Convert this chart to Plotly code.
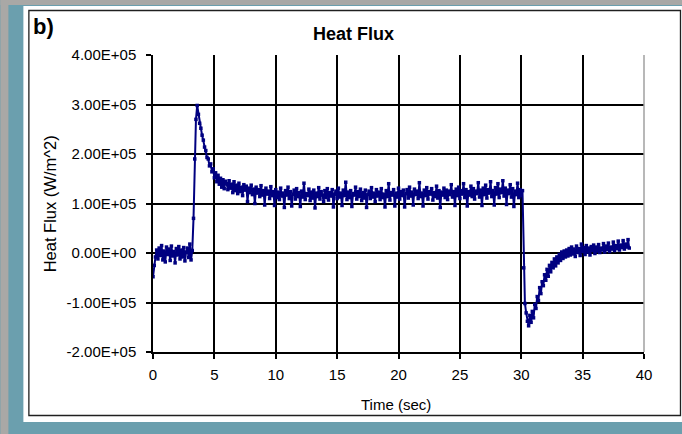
import plotly.graph_objects as go

# ---------------- data ----------------
time_start_s = 0.0
time_step_s = 0.1

# heat flux in kW/m^2, one row per second (t = k.0 ... k.9)
heat_flux_kw = [
    -48, -25, -8, 6, -12, 10, -5, 15, -14, 4,            # 0
    -18, 12, -3, 8, -15, 14, -6, 3, -20, 9,              # 1
    -4, 13, -12, 6, -8, 11, -16, 2, 10, -9,              # 2
    18, -14, 5, 70, 190, 270, 298, 280, 262, 252,        # 3
    238, 228, 214, 207, 193, 190, 176, 180, 164, 170,    # 4
    152, 162, 144, 157, 139, 151, 133, 148, 130, 145,    # 5
    140, 128, 146, 131, 139, 122, 144, 126, 137, 120,    # 6
    141, 124, 133, 116, 138, 127, 135, 104, 131, 122,    # 7
    137, 118, 129, 100, 133, 121, 128, 114, 136, 117,    # 8
    126, 97, 131, 119, 125, 110, 134, 116, 124, 96,      # 9
    128, 112, 123, 108, 131, 115, 121, 92, 126, 117,     # 10
    133, 110, 124, 95, 119, 127, 109, 130, 114, 122,     # 11
    94, 125, 113, 141, 108, 120, 116, 129, 106, 123,     # 12
    111, 127, 91, 121, 114, 132, 109, 124, 117, 104,     # 13
    126, 112, 130, 107, 122, 115, 128, 93, 119, 125,     # 14
    110, 131, 113, 121, 96, 127, 116, 143, 108, 123,     # 15
    112, 126, 94, 120, 117, 133, 109, 124, 114, 129,     # 16
    106, 122, 111, 127, 92, 118, 125, 110, 132, 113,     # 17
    121, 104, 128, 115, 123, 108, 130, 112, 119, 93,     # 18
    126, 114, 140, 107, 122, 117, 128, 95, 121, 113,     # 19
    131, 109, 124, 116, 127, 93, 120, 128, 111, 133,     # 20
    115, 123, 97, 129, 118, 125, 110, 142, 114, 121,     # 21
    95, 127, 116, 132, 109, 124, 119, 130, 107, 122,     # 22
    114, 135, 111, 126, 92, 123, 117, 131, 112, 127,     # 23
    108, 125, 118, 138, 113, 124, 96, 129, 116, 133,     # 24
    110, 126, 119, 140, 112, 128, 95, 124, 117, 135,     # 25
    114, 130, 109, 125, 120, 142, 113, 127, 96, 131,     # 26
    118, 137, 111, 128, 121, 144, 114, 126, 97, 132,     # 27
    119, 140, 112, 129, 122, 146, 115, 131, 98, 127,     # 28
    120, 138, 113, 130, 94, 125, 118, 141, 112, 128,     # 29
    116, 126, -30, -102, -121, -138, -147, -126, -140, -118,  # 30
    -131, -104, -112, -88, -96, -70, -82, -58, -66, -44,      # 31
    -55, -33, -47, -25, -38, -19, -30, -12, -26, -8,          # 32
    -20, -3, -15, 2, -11, 4, -8, 6, -6, 9,               # 33
    -4, 12, -2, 8, -7, 14, 1, 9, -5, 18,                 # 34
    3, 11, -3, 15, 2, 10, -4, 13, 5, 16,                 # 35
    -1, 12, 4, 17, 1, 10, 6, 19, 2, 14,                  # 36
    7, 20, 3, 12, 8, 22, 5, 15, 9, 24,                   # 37
    6, 16, 11, 25, 8, 18, 12, 27, 10,                    # 38
]

time_s = [round(time_start_s + i * time_step_s, 1) for i in range(len(heat_flux_kw))]
heat_flux = [v * 1000 for v in heat_flux_kw]  # W/m^2

x_tick_vals = [0, 5, 10, 15, 20, 25, 30, 35, 40]
y_tick_vals = [-200000, -100000, 0, 100000, 200000, 300000, 400000]
y_tick_labels = ["-2.00E+05", "-1.00E+05", "0.00E+00", "1.00E+05",
                 "2.00E+05", "3.00E+05", "4.00E+05"]

chart_title = "Heat Flux"
panel_label = "b)"
x_title = "Time (sec)"
y_title = "Heat Flux (W/m^2)"

# ---------------- layout geometry (pixels) ----------------
W, H = 682, 434
L, R, T, B = 152.7, 644, 55, 352   # plot area edges in page pixels
PW, PH = R - L, B - T


def px(x):
    return (x - L) / PW


def py(y):
    return (B - y) / PH


FONT = "Liberation Sans, Arial, Helvetica, sans-serif"
TEAL = "#6b9fae"
GRAY = "#a9a8a6"

fig = go.Figure()
fig.add_trace(go.Scatter(
    x=time_s, y=heat_flux, mode="lines+markers",
    line=dict(color="#000080", width=2),
    marker=dict(color="#000080", size=3.5, symbol="square"),
    showlegend=False, hoverinfo="skip",
))

shapes = [
    # gray strips along top and left
    dict(type="rect", xref="paper", yref="paper", x0=px(0), x1=px(W), y0=py(0), y1=py(5),
         fillcolor=GRAY, line=dict(width=0), layer="below"),
    dict(type="rect", xref="paper", yref="paper", x0=px(0), x1=px(8), y0=py(0), y1=py(H),
         fillcolor=GRAY, line=dict(width=0), layer="below"),
    # white chart panel
    dict(type="rect", xref="paper", yref="paper", x0=px(23), x1=px(W), y0=py(6), y1=py(422),
         fillcolor="white", line=dict(width=0), layer="below"),
    # black chart frame
    dict(type="rect", xref="paper", yref="paper", x0=px(28.5), x1=px(680.5), y0=py(10.5), y1=py(415.5),
         fillcolor="rgba(0,0,0,0)", line=dict(color="#202020", width=1.3), layer="below"),
    # gray right border of plot area
    dict(type="line", xref="paper", yref="paper", x0=1, x1=1, y0=0, y1=1,
         line=dict(color="#a0a0a0", width=1.5), layer="above"),
]

annotations = [
    dict(text=panel_label, xref="paper", yref="paper", x=px(31), y=py(27),
         xanchor="left", yanchor="middle", showarrow=False,
         font=dict(family=FONT, size=22, color="black", weight="bold")),
    dict(text=chart_title, xref="paper", yref="paper", x=px(353), y=py(34),
         xanchor="center", yanchor="middle", showarrow=False,
         font=dict(family=FONT, size=18, color="black", weight="bold")),
    dict(text=x_title, xref="paper", yref="paper", x=px(396), y=py(404),
         xanchor="center", yanchor="middle", showarrow=False,
         font=dict(family=FONT, size=15, color="black")),
    dict(text=y_title, xref="paper", yref="paper", x=px(50), y=py(204),
         xanchor="center", yanchor="middle", showarrow=False, textangle=-90,
         font=dict(family=FONT, size=16.5, color="black")),
]

fig.update_layout(
    width=W, height=H,
    margin=dict(l=L, r=W - R, t=T, b=H - B, pad=0),
    paper_bgcolor=TEAL, plot_bgcolor="white",
    shapes=shapes, annotations=annotations,
    font=dict(family=FONT, size=15, color="black"),
)
fig.update_xaxes(
    range=[0, 40], tickvals=x_tick_vals, ticktext=[str(v) for v in x_tick_vals],
    showgrid=True, gridcolor="black", gridwidth=1.5,
    showline=True, linecolor="black", linewidth=1.5,
    ticks="outside", ticklen=5, tickcolor="black", tickwidth=1.5,
    zeroline=False, tickfont=dict(family=FONT, size=15), ticklabelstandoff=3,
)
fig.update_yaxes(
    range=[-200000, 400000], tickvals=y_tick_vals, ticktext=y_tick_labels,
    showgrid=True, gridcolor="black", gridwidth=1.5,
    showline=True, linecolor="black", linewidth=1.5,
    ticks="outside", ticklen=5, tickcolor="black", tickwidth=1.5,
    zeroline=False, tickfont=dict(family=FONT, size=15), ticklabelstandoff=7,
)

fig.write_html("out.html")
